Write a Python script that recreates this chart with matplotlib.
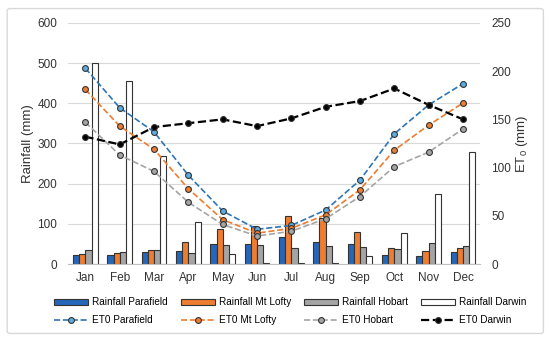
import matplotlib.pyplot as plt
import numpy as np
from matplotlib.patches import FancyBboxPatch

months = ['Jan', 'Feb', 'Mar', 'Apr', 'May', 'Jun', 'Jul', 'Aug', 'Sep', 'Oct', 'Nov', 'Dec']

# rainfall (mm), left axis
rain_parafield = [22, 22, 29, 33, 51, 49, 67, 55, 49, 22, 20, 29]
rain_mtlofty = [26, 28, 36, 54, 86, 95, 120, 114, 80, 41, 32, 39]
rain_hobart = [35, 31, 35, 28, 47, 47, 39, 46, 42, 37, 52, 46]
rain_darwin = [500, 455, 269, 104, 24, 3, 2, 2, 20, 77, 174, 278]

# ET0 (mm), right axis
et_parafield = [203, 162, 137, 92, 55, 36, 40, 56, 87, 135, 165, 187]
et_mtlofty = [181, 143, 119, 78, 46, 32, 37, 51, 77, 118, 144, 167]
et_hobart = [147, 113, 96, 64, 41, 29, 34, 47, 70, 101, 116, 140]
et_darwin = [132, 124, 142, 146, 150, 143, 151, 163, 169, 182, 165, 150]

plt.rcParams['font.family'] = ['Liberation Sans', 'DejaVu Sans']
plt.rcParams['mathtext.default'] = 'regular'

fig = plt.figure(figsize=(5.5, 3.42), dpi=100)
border = FancyBboxPatch((0.013, 0.025), 0.975, 0.95, boxstyle='round,pad=0,rounding_size=0.006',
                        transform=fig.transFigure, facecolor='white', edgecolor='#d9d9d9', lw=1, zorder=-5)
fig.patches.append(border)
ax = fig.add_axes([0.124, 0.228, 0.749, 0.705])
ax2 = ax.twinx()
ax.patch.set_alpha(0)
ax2.patch.set_alpha(0)

x = np.arange(len(months))
w = 0.18
bars = [
    (rain_parafield, '#2666B8', 'Rainfall Parafield'),
    (rain_mtlofty, '#ED7D31', 'Rainfall Mt Lofty'),
    (rain_hobart, '#A5A5A5', 'Rainfall Hobart'),
    (rain_darwin, 'white', 'Rainfall Darwin'),
]
bar_handles = []
for i, (vals, col, lab) in enumerate(bars):
    b = ax.bar(x + (i - 1.5) * w, vals, w, color=col, edgecolor='#333333', lw=0.8, label=lab, zorder=2)
    bar_handles.append(b)

lines = [
    (et_parafield, '#2E75B6', '#5DADE2', 'ET0 Parafield'),
    (et_mtlofty, '#ED7D31', '#ED7D31', 'ET0 Mt Lofty'),
    (et_hobart, '#A5A5A5', '#A5A5A5', 'ET0 Hobart'),
    (et_darwin, 'black', 'black', 'ET0 Darwin'),
]
line_handles = []
for vals, col, mfc, lab in lines:
    lw = 1.6 if lab == 'ET0 Darwin' else 1.2
    l, = ax2.plot(x, vals, ls='--', color=col, lw=lw, marker='o', ms=4.2, mfc=mfc,
                  mec='#333333', mew=0.8, label=lab, zorder=3)
    line_handles.append(l)

ax.set_xlim(-0.5, 11.5)
ax.set_ylim(0, 600)
ax.set_yticks(range(0, 601, 100))
ax2.set_ylim(0, 250)
ax2.set_yticks(range(0, 251, 50))
ax.set_xticks(x)
ax.set_xticklabels(months)
ax.grid(axis='y', color='#d9d9d9', lw=0.8, zorder=0)
ax.set_axisbelow(True)
for a in (ax, ax2):
    for s in a.spines.values():
        s.set_visible(False)
    a.tick_params(length=0, labelsize=8.5, colors='#333333')
ax.spines['bottom'].set_visible(True)
ax.spines['bottom'].set_color('#bfbfbf')
ax.tick_params(axis='x', pad=6)
ax.tick_params(axis='y', pad=8)
ax2.tick_params(axis='y', pad=8)
ax.set_ylabel('Rainfall (mm)', fontsize=9.5, color='#333333', labelpad=2)
ax2.set_ylabel('ET$_0$ (mm)', fontsize=9.5, color='#333333', labelpad=2)

# legend fills column by column, so interleave bars and lines
handles = []
for b, l in zip(bar_handles, line_handles):
    handles += [b, l]
fig.legend(handles=handles, loc='center', bbox_to_anchor=(0.528, 0.09), ncol=4, frameon=False,
           fontsize=7.2, handlelength=3.4, handleheight=0.5, columnspacing=1.3, handletextpad=0.4,
           labelspacing=0.75)

fig.savefig('out.png', dpi=100)
